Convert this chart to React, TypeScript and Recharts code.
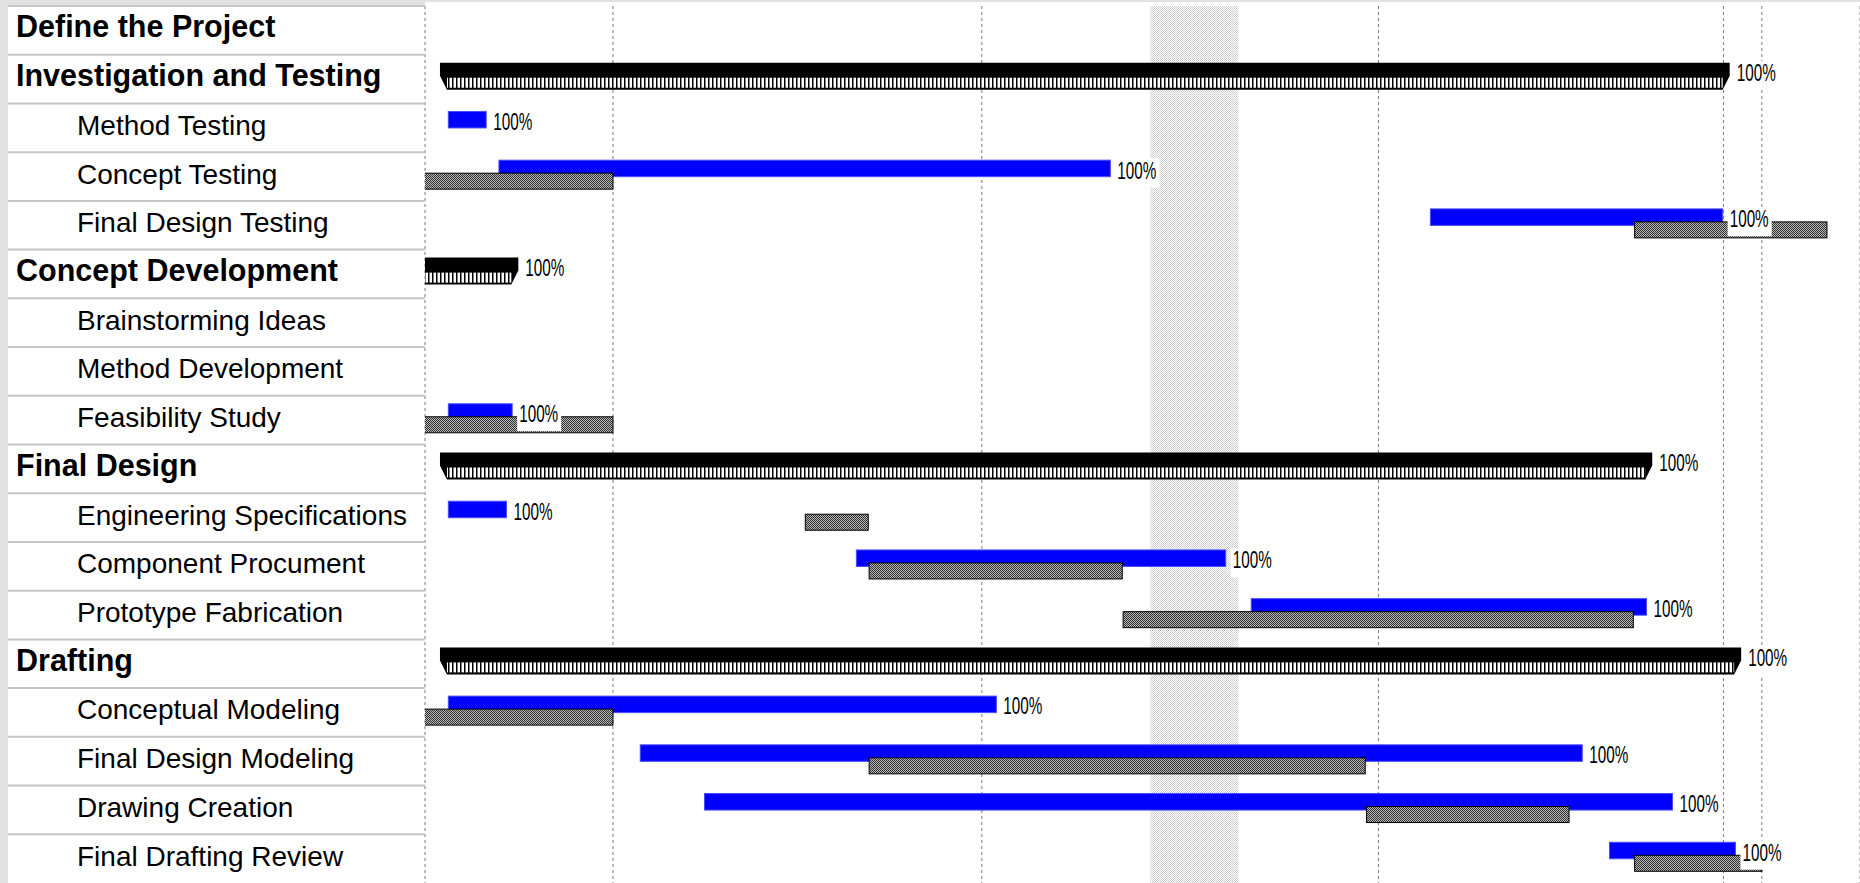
import { Bar, CartesianGrid, ComposedChart, ReferenceArea, Scatter, XAxis, YAxis } from "recharts";

const taskNames = [
  "Define the Project",
  "Investigation and Testing",
  "Method Testing",
  "Concept Testing",
  "Final Design Testing",
  "Concept Development",
  "Brainstorming Ideas",
  "Method Development",
  "Feasibility Study",
  "Final Design",
  "Engineering Specifications",
  "Component Procument",
  "Prototype Fabrication",
  "Drafting",
  "Conceptual Modeling",
  "Final Design Modeling",
  "Drawing Creation",
  "Final Drafting Review",
];
const outlineLevel = [0, 0, 1, 1, 1, 0, 1, 1, 1, 0, 1, 1, 1, 0, 1, 1, 1, 1];

// days from the left edge of the visible timescale
const actualStart = [null, 0.34, 0.53, 1.68, 22.84, -0.5, null, null, 0.53, 0.34, 0.53, 9.8, 18.77, 0.34, 0.53, 4.89, 6.35, 26.91];
const actualFinish = [null, 29.64, 1.39, 15.57, 29.48, 2.12, null, null, 1.98, 27.88, 1.85, 18.19, 27.75, 29.9, 12.98, 26.29, 28.34, 29.77];
const baselineStart = [null, null, null, -0.5, 27.48, null, null, null, -0.5, null, 8.64, 10.09, 15.86, null, -0.5, 10.09, 21.39, 27.48];
const baselineFinish = [null, null, null, 4.27, 31.85, null, null, null, 4.27, null, 10.07, 15.84, 27.45, null, 4.27, 21.36, 25.99, 30.37];
const percentComplete = [null, 100, 100, 100, 100, 100, null, null, 100, 100, 100, 100, 100, 100, 100, 100, 100, 100];

const gridDays = [4.27, 12.65, 21.66, 29.5, 30.37];
const nonWorkingDays = [16.48, 18.48];
const timescale = [0, 32.6];

const W = 1860;
const H = 883;
const TOP = 6;
const TABLE_W = 425;
const ROW_H = (H - TOP) / taskNames.length;
const BAR_DY = -2;

const data = taskNames.map((name, i) => ({
  name,
  level: outlineLevel[i],
  actual: actualStart[i] == null ? null : [actualStart[i], actualFinish[i]],
  baseline: baselineStart[i] == null ? null : [baselineStart[i], baselineFinish[i]],
  labelAt: percentComplete[i] == null ? null : actualFinish[i],
  pct: percentComplete[i],
}));

function SummaryBar({ x, y, width }: any) {
  const h = 27;
  const mid = y + 13;
  const bot = y + h;
  const tip = 7;
  return (
    <g>
      <path
        d={`M${x},${y} H${x + width} V${mid} L${x + width - tip},${bot} H${x + tip} L${x},${mid} Z`}
        fill="#000"
      />
      <rect x={x + tip} y={mid + 2} width={Math.max(0, width - tip * 2)} height={h - 13 - 4} fill="url(#summaryStripe)" />
    </g>
  );
}

function ActualBar(props: any) {
  const { x, y, width, payload } = props;
  if (!payload || !payload.actual || !(width > 0)) return <g />;
  if (payload.level === 0) return <SummaryBar x={x} y={y + BAR_DY} width={width} />;
  return <rect x={x} y={y + BAR_DY} width={width} height={16.5} fill="#0000ff" stroke="#4b4bff" strokeWidth={1} />;
}

function BaselineBar(props: any) {
  const { x, y, width, payload } = props;
  if (!payload || !payload.baseline || !(width > 0)) return <g />;
  return <rect x={x} y={y + BAR_DY} width={width} height={16} fill="url(#baselineDots)" stroke="#000" strokeWidth={1} />;
}

function PctLabel(props: any) {
  const { cx, cy, payload } = props;
  if (!payload || payload.labelAt == null || cx == null || isNaN(cx)) return <g />;
  const x = cx + 7;
  const base = cy + 2;
  return (
    <g>
      <rect x={x - 2} y={base - 20} width={44} height={29} fill="#fff" />
      <text
        transform={`translate(${x},${base}) scale(0.65,1)`}
        fontSize={23.5}
        fontFamily="'Liberation Sans', Arial, sans-serif"
        fill="#000"
      >
        {payload.pct}%
      </text>
    </g>
  );
}

function TaskTick(props: any) {
  const { y, payload } = props;
  const i = taskNames.indexOf(payload.value);
  const top = y - ROW_H / 2;
  const summary = outlineLevel[i] === 0;
  return (
    <g>
      <line x1={8} x2={TABLE_W} y1={top} y2={top} stroke="#c6c6c6" strokeWidth={2} />
      <text
        x={summary ? 16 : 77}
        y={y + 7}
        fontSize={summary ? 30.5 : 28}
        fontWeight={summary ? 700 : 400}
        fontFamily="'Liberation Sans', Arial, sans-serif"
        fill="#000"
      >
        {payload.value}
      </text>
    </g>
  );
}

export default function App() {
  return (
    <div style={{ position: "absolute", left: 0, top: 0, width: W, height: H, background: "#e2e2e2", overflow: "hidden" }}>
      <div style={{ position: "absolute", left: 8, top: TOP, width: TABLE_W - 8, height: H - TOP, background: "#fff" }} />
      <div style={{ position: "absolute", left: TABLE_W, top: 2, width: W - TABLE_W, height: H - 2, background: "#fff" }} />
      <div style={{ position: "absolute", left: 0, top: 0 }}>
        <ComposedChart
          width={W}
          height={H}
          data={data}
          layout="vertical"
          barGap={-3}
          barCategoryGap={0}
          margin={{ top: TOP, right: 0, bottom: 0, left: 0 }}
        >
          <defs>
            <pattern id="summaryStripe" width={4} height={10} patternUnits="userSpaceOnUse">
              <rect width={4} height={10} fill="#000" />
              <rect x={1.5} width={2.5} height={10} fill="#fff" />
            </pattern>
            <pattern id="baselineDots" width={2} height={2} patternUnits="userSpaceOnUse">
              <rect width={2} height={2} fill="#b8b8b8" />
              <rect width={1} height={1} fill="#303030" />
              <rect x={1} y={1} width={1} height={1} fill="#303030" />
            </pattern>
            <pattern id="nonWorkDots" width={2} height={2} patternUnits="userSpaceOnUse">
              <rect width={2} height={2} fill="#ffffff" />
              <rect width={1} height={1} fill="#cacaca" />
              <rect x={1} y={1} width={1} height={1} fill="#d6d6d6" />
            </pattern>
          </defs>
          <XAxis type="number" domain={timescale} ticks={gridDays} interval={0} allowDataOverflow hide />
          <YAxis
            type="category"
            dataKey="name"
            width={TABLE_W}
            axisLine={false}
            tickLine={false}
            interval={0}
            tick={<TaskTick />}
          />
          <ReferenceArea x1={nonWorkingDays[0]} x2={nonWorkingDays[1]} fill="url(#nonWorkDots)" fillOpacity={1} stroke="none" />
          <CartesianGrid horizontal={false} vertical stroke="#7a7a7a" strokeDasharray="3 3" />
          <Bar dataKey="actual" barSize={16} shape={<ActualBar />} isAnimationActive={false} />
          <Bar dataKey="baseline" barSize={16} shape={<BaselineBar />} isAnimationActive={false} />
          <Scatter dataKey="labelAt" shape={<PctLabel />} isAnimationActive={false} />
        </ComposedChart>
      </div>
    </div>
  );
}
